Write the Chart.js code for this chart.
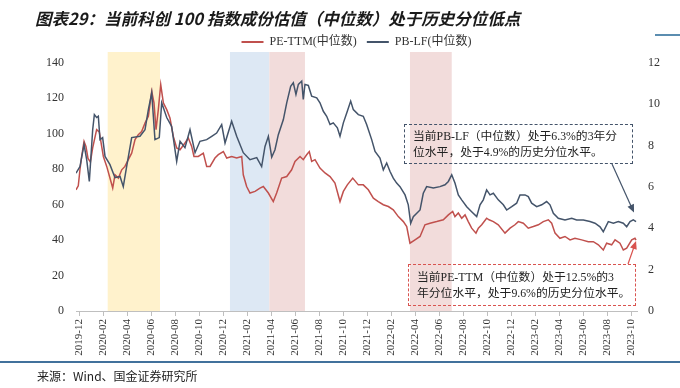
<!DOCTYPE html>
<html>
<head>
<meta charset="utf-8">
<script src="https://cdn.jsdelivr.net/npm/chart.js@4.4.0/dist/chart.umd.min.js"></script>
<style>
  body { margin: 0; background: #fff; }
  #wrap { position: relative; width: 680px; height: 388px; overflow: hidden; }
  #c { position: absolute; left: 0; top: 0; }
  .title { position: absolute; left: 35px; top: 6px; font: italic bold 16.5px "Noto Sans CJK SC"; color: #1a1a1a; white-space: nowrap; }
  .src { position: absolute; left: 37px; top: 367px; font: 12px "Noto Sans CJK SC"; color: #222; white-space: nowrap; }
  .rule { position: absolute; left: 0; top: 361px; width: 680px; height: 2px; background: #41719c; }
  .tick { position: absolute; left: 655px; top: 34px; width: 25px; height: 2px; background: #5b8db0; }
  .note { position: absolute; font: 11.8px "Liberation Serif", "Noto Sans CJK SC"; line-height: 16px; color: #222; white-space: nowrap; box-sizing: border-box; }
  #noteB { left: 404px; top: 124px; width: 229px; height: 40px; border: 1px dashed #44546a; padding: 3px 0 0 8px; }
  #noteE { left: 408px; top: 264px; width: 228px; height: 42px; border: 1px dashed #d9534f; padding: 4px 0 0 8px; }
</style>
</head>
<body>
<div id="wrap">
  <canvas id="c" width="680" height="388"></canvas>
  <div class="title">图表29：当前科创 100 指数成份估值（中位数）处于历史分位低点</div>
  <div class="tick"></div>
  <div class="note" id="noteB">当前PB-LF（中位数）处于6.3%的3年分<br>位水平，处于4.9%的历史分位水平。</div>
  <div class="note" id="noteE">当前PE-TTM（中位数）处于12.5%的3<br>年分位水平，处于9.6%的历史分位水平。</div>
  <div class="rule"></div>
  <div class="src">来源：Wind、国金证券研究所</div>
</div>
<script>
// x 值为距 2019-12 的月数
const tickLabels = ['2019-12', '2020-02', '2020-04', '2020-06', '2020-08', '2020-10', '2020-12',
  '2021-02', '2021-04', '2021-06', '2021-08', '2021-10', '2021-12',
  '2022-02', '2022-04', '2022-06', '2022-08', '2022-10', '2022-12',
  '2023-02', '2023-04', '2023-06', '2023-08', '2023-10'];

// PE-TTM(中位数)
const peX = [
  -0.25, -0.06, 0.08, 0.22, 0.42, 0.58, 0.75, 0.95, 1.14, 1.47,
  1.69, 1.89, 2.03, 2.31, 2.58, 2.81, 3.0, 3.28, 3.56, 3.83,
  4.11, 4.39, 4.67, 4.94, 5.22, 5.5, 5.78, 6.06, 6.25, 6.42,
  6.61, 6.81, 7.03, 7.31, 7.58, 7.86, 8.14, 8.42, 8.83, 9.11,
  9.39, 9.58, 9.94, 10.36, 10.64, 10.92, 11.33, 11.61, 12.03, 12.31,
  12.72, 13.14, 13.56, 13.69, 13.97, 14.25, 14.67, 15.08, 15.36, 15.78,
  16.19, 16.47, 16.89, 17.31, 17.72, 18.0, 18.42, 18.69, 18.97, 19.19,
  19.39, 19.67, 20.08, 20.5, 20.92, 21.33, 21.75, 22.03, 22.36, 22.81,
  23.28, 23.69, 24.11, 24.53, 24.94, 25.36, 25.78, 26.19, 26.61, 27.03,
  27.31, 27.58, 28.0, 28.42, 28.83, 29.25, 29.81, 30.36, 30.78, 31.14,
  31.33, 31.61, 31.89, 32.17, 32.44, 32.72, 33.08, 33.28, 33.56, 33.97,
  34.17, 34.53, 34.94, 35.5, 35.92, 36.33, 36.61, 37.03, 37.44, 37.86,
  38.28, 38.69, 39.11, 39.39, 39.67, 40.08, 40.5, 40.92, 41.33, 41.89,
  42.44, 42.86, 43.28, 43.69, 43.97, 44.39, 44.67, 45.08, 45.36, 45.64,
  46.06, 46.33, 46.42];
const peValues = [
  68.3, 70.6, 79.6, 87.1, 95.6, 92.8, 86, 84, 92, 102.2,
  101, 92.8, 87.1, 81.5, 75, 69.3, 76.8, 74.9, 79.6, 81.5,
  85.3, 89, 96.6, 99.4, 101.2, 106, 109.7, 123.8, 117.3, 102.2,
  113.5, 127.6, 117.3, 113.5, 108.8, 98.4, 91.9, 90.9, 94.7, 97.5,
  92.8, 87.1, 87.1, 89, 81.5, 81.5, 86.2, 88.1, 89.9, 86.2,
  87.1, 86.2, 87.1, 76.8, 70.2, 66.5, 67.4, 69.3, 70.2, 66.5,
  61.7, 66.5, 74.9, 75.8, 79.6, 84.3, 87.1, 85.3, 88.1, 89.9,
  84.3, 85.3, 80.6, 77.8, 75.8, 72.1, 61.7, 67.4, 71.1, 74.9,
  71.1, 71.1, 68.3, 63.6, 61.7, 59.9, 58.9, 57, 53.2, 50.4,
  47.6, 38.2, 40.1, 42, 48.6, 49.5, 50.4, 51.4, 54.2, 56.1,
  53.2, 55.2, 52.3, 54.2, 50.4, 46.7, 43.9, 46.7, 48.6, 52.3,
  51.4, 50.4, 48.6, 43.9, 46.7, 48.6, 50.4, 49.5, 46.7, 47.6,
  48.6, 50.4, 51.4, 49.5, 43.9, 41, 42, 40.1, 41, 40.1,
  39.1, 39.1, 37.3, 34.4, 38.2, 37.3, 40.1, 38.2, 34.4, 35.4,
  40.1, 41, 40];

// PB-LF(中位数)，右轴
const pbX = [
  -0.25, 0.08, 0.42, 0.64, 0.86, 1.14, 1.28, 1.47, 1.61, 1.75,
  1.97, 2.17, 2.58, 3.0, 3.42, 3.69, 3.97, 4.39, 5.08, 5.5,
  5.78, 6.06, 6.33, 6.69, 6.89, 7.31, 7.72, 8.14, 8.42, 8.83,
  9.25, 9.67, 10.08, 10.64, 11.06, 11.47, 11.89, 12.17, 12.72, 13.14,
  13.69, 14.25, 14.81, 15.22, 15.5, 15.78, 16.06, 16.33, 16.61, 17.03,
  17.31, 17.64, 17.86, 18.08, 18.28, 18.56, 18.69, 18.83, 19.11, 19.39,
  19.81, 20.08, 20.36, 20.64, 20.92, 21.19, 21.53, 21.75, 22.03, 22.36,
  22.64, 22.86, 23.28, 23.69, 23.97, 24.39, 24.67, 25.08, 25.36, 25.64,
  25.92, 26.19, 26.47, 26.75, 27.17, 27.44, 27.64, 27.86, 28.42, 28.69,
  28.97, 29.53, 30.08, 30.5, 30.78, 31.06, 31.33, 31.61, 31.89, 32.31,
  32.72, 33.14, 33.42, 33.69, 33.97, 34.25, 34.53, 34.94, 35.36, 35.64,
  36.06, 36.47, 36.75, 37.17, 37.44, 37.72, 38.14, 38.56, 38.97, 39.25,
  39.53, 39.94, 40.5, 41.06, 41.47, 42.03, 42.58, 43.0, 43.42, 43.69,
  44.11, 44.53, 44.94, 45.36, 45.64, 45.92, 46.19, 46.42];
const pbValues = [
  6.66, 6.98, 8.04, 7.31, 6.26, 8.76, 9.49, 9.35, 9.41, 8.28,
  8.38, 7.47, 7.07, 6.44, 6.5, 6.01, 6.98, 8.38, 8.44, 8.76,
  9.73, 10.54, 8.28, 8.38, 10.06, 9.35, 8.92, 7.23, 8.2, 7.89,
  8.76, 7.65, 8.2, 8.28, 8.44, 8.6, 9.01, 8.12, 9.17, 8.44,
  7.65, 7.31, 7.41, 6.98, 7.95, 8.44, 7.43, 7.79, 8.52, 9.25,
  10.06, 10.86, 11.03, 10.46, 10.95, 11.11, 10.22, 10.95, 10.9, 10.38,
  10.3, 10.06, 9.65, 9.41, 9.01, 9.09, 8.85, 8.44, 9.09, 9.65,
  10.14, 9.73, 9.49, 9.41, 9.01, 8.28, 7.71, 7.39, 6.82, 7.15,
  6.74, 6.42, 6.18, 6.01, 5.61, 5.13, 4.24, 4.56, 4.88, 5.69,
  6.01, 5.94, 6.01, 6.1, 6.26, 6.58, 6.18, 5.61, 5.37, 5.04,
  4.8, 4.56, 5.13, 5.37, 5.85, 5.61, 5.69, 5.37, 5.13, 4.88,
  5.04, 5.21, 5.61, 5.61, 5.53, 5.21, 5.04, 5.13, 5.29, 5.13,
  4.72, 4.48, 4.4, 4.48, 4.4, 4.4, 4.32, 4.24, 4.07, 3.83,
  4.32, 4.24, 4.32, 4.24, 4.07, 4.32, 4.4, 4.32];

// 阴影区间（月数）
const bandFrom = [2.39, 12.58, 15.86, 27.58];
const bandTo = [6.75, 15.86, 18.83, 31.06];

const bandColors = ['#fff2cc', '#dde8f4', '#f2dcdb', '#f2dcdb'];
const serif = "'Liberation Serif', 'Noto Sans CJK SC'";

const bandsPlugin = {
  id: 'bands',
  beforeDatasetsDraw(chart) {
    const {ctx, chartArea, scales} = chart;
    ctx.save();
    bandFrom.forEach((f, i) => {
      const x1 = scales.x.getPixelForValue(f);
      const x2 = scales.x.getPixelForValue(bandTo[i]);
      ctx.fillStyle = bandColors[i];
      ctx.fillRect(x1, chartArea.top, x2 - x1, chartArea.bottom - chartArea.top);
    });
    ctx.restore();
  }
};

function drawArrow(ctx, x1, y1, x2, y2, color) {
  const a = Math.atan2(y2 - y1, x2 - x1);
  ctx.strokeStyle = color;
  ctx.fillStyle = color;
  ctx.lineWidth = 1.2;
  ctx.beginPath();
  ctx.moveTo(x1, y1);
  ctx.lineTo(x2 - 6 * Math.cos(a), y2 - 6 * Math.sin(a));
  ctx.stroke();
  ctx.beginPath();
  ctx.moveTo(x2, y2);
  ctx.lineTo(x2 - 8 * Math.cos(a) + 3.5 * Math.sin(a), y2 - 8 * Math.sin(a) - 3.5 * Math.cos(a));
  ctx.lineTo(x2 - 8 * Math.cos(a) - 3.5 * Math.sin(a), y2 - 8 * Math.sin(a) + 3.5 * Math.cos(a));
  ctx.closePath();
  ctx.fill();
}

const arrowsPlugin = {
  id: 'arrows',
  afterDraw(chart) {
    const {ctx, scales} = chart;
    const n = pbX.length - 1, m = peX.length - 1;
    ctx.save();
    drawArrow(ctx, 612, 164, scales.x.getPixelForValue(pbX[n]) - 2,
      scales.y1.getPixelForValue(pbValues[n]) - 9, '#44546a');
    drawArrow(ctx, 628, 264, scales.x.getPixelForValue(peX[m]),
      scales.y.getPixelForValue(peValues[m]) + 1, '#d9534f');
    ctx.restore();
  }
};

new Chart(document.getElementById('c'), {
  type: 'line',
  data: {
    datasets: [{
      label: 'PE-TTM(中位数)',
      data: peX.map((x, i) => ({x: x, y: peValues[i]})),
      borderColor: '#c0504d',
      backgroundColor: '#c0504d',
      borderWidth: 1.5,
      pointRadius: 0,
      yAxisID: 'y',
      order: 1
    }, {
      label: 'PB-LF(中位数)',
      data: pbX.map((x, i) => ({x: x, y: pbValues[i]})),
      borderColor: '#44546a',
      backgroundColor: '#44546a',
      borderWidth: 1.5,
      pointRadius: 0,
      yAxisID: 'y1',
      order: 0
    }]
  },
  options: {
    responsive: false,
    animation: false,
    devicePixelRatio: 1,
    layout: { padding: { top: 26, right: 0, bottom: 27, left: 0 } },
    scales: {
      x: {
        type: 'linear',
        min: -0.25,
        max: 46.5,
        afterBuildTicks: s => { s.ticks = tickLabels.map((l, i) => ({value: i * 2})); },
        afterFit: s => { s.height = 50; },
        ticks: {
          autoSkip: false,
          maxRotation: 90,
          minRotation: 90,
          padding: 3,
          color: '#333',
          font: { family: serif, size: 11 },
          callback: (v, i) => tickLabels[i]
        },
        grid: { drawOnChartArea: false, drawTicks: true, tickLength: 5, color: '#bfbfbf' },
        border: { display: true, color: '#bfbfbf' }
      },
      y: {
        position: 'left',
        min: 0,
        max: 146,
        afterBuildTicks: s => { s.ticks = [0, 20, 40, 60, 80, 100, 120, 140].map(v => ({value: v})); },
        afterFit: s => { s.width = 76; },
        ticks: { padding: 12, color: '#333', font: { family: serif, size: 12 } },
        grid: { display: false, drawTicks: false },
        border: { display: false }
      },
      y1: {
        position: 'right',
        min: 0,
        max: 146 * 12 / 140,
        afterBuildTicks: s => { s.ticks = [0, 2, 4, 6, 8, 10, 12].map(v => ({value: v})); },
        afterFit: s => { s.width = 43; },
        ticks: { padding: 11, color: '#333', font: { family: serif, size: 12 } },
        grid: { display: false, drawTicks: false },
        border: { display: false }
      }
    },
    plugins: {
      legend: {
        display: true,
        position: 'top',
        fullSize: false,
        maxHeight: 26,
        labels: {
          boxWidth: 22,
          boxHeight: 2,
          padding: 10,
          color: '#333',
          font: { family: serif, size: 12 },
          sort: (a, b) => a.datasetIndex - b.datasetIndex,
          generateLabels: chart => Chart.defaults.plugins.legend.labels.generateLabels(chart)
            .map(l => Object.assign(l, {lineWidth: 0}))
        }
      },
      tooltip: { enabled: false }
    }
  },
  plugins: [bandsPlugin, arrowsPlugin]
});
</script>
</body>
</html>
